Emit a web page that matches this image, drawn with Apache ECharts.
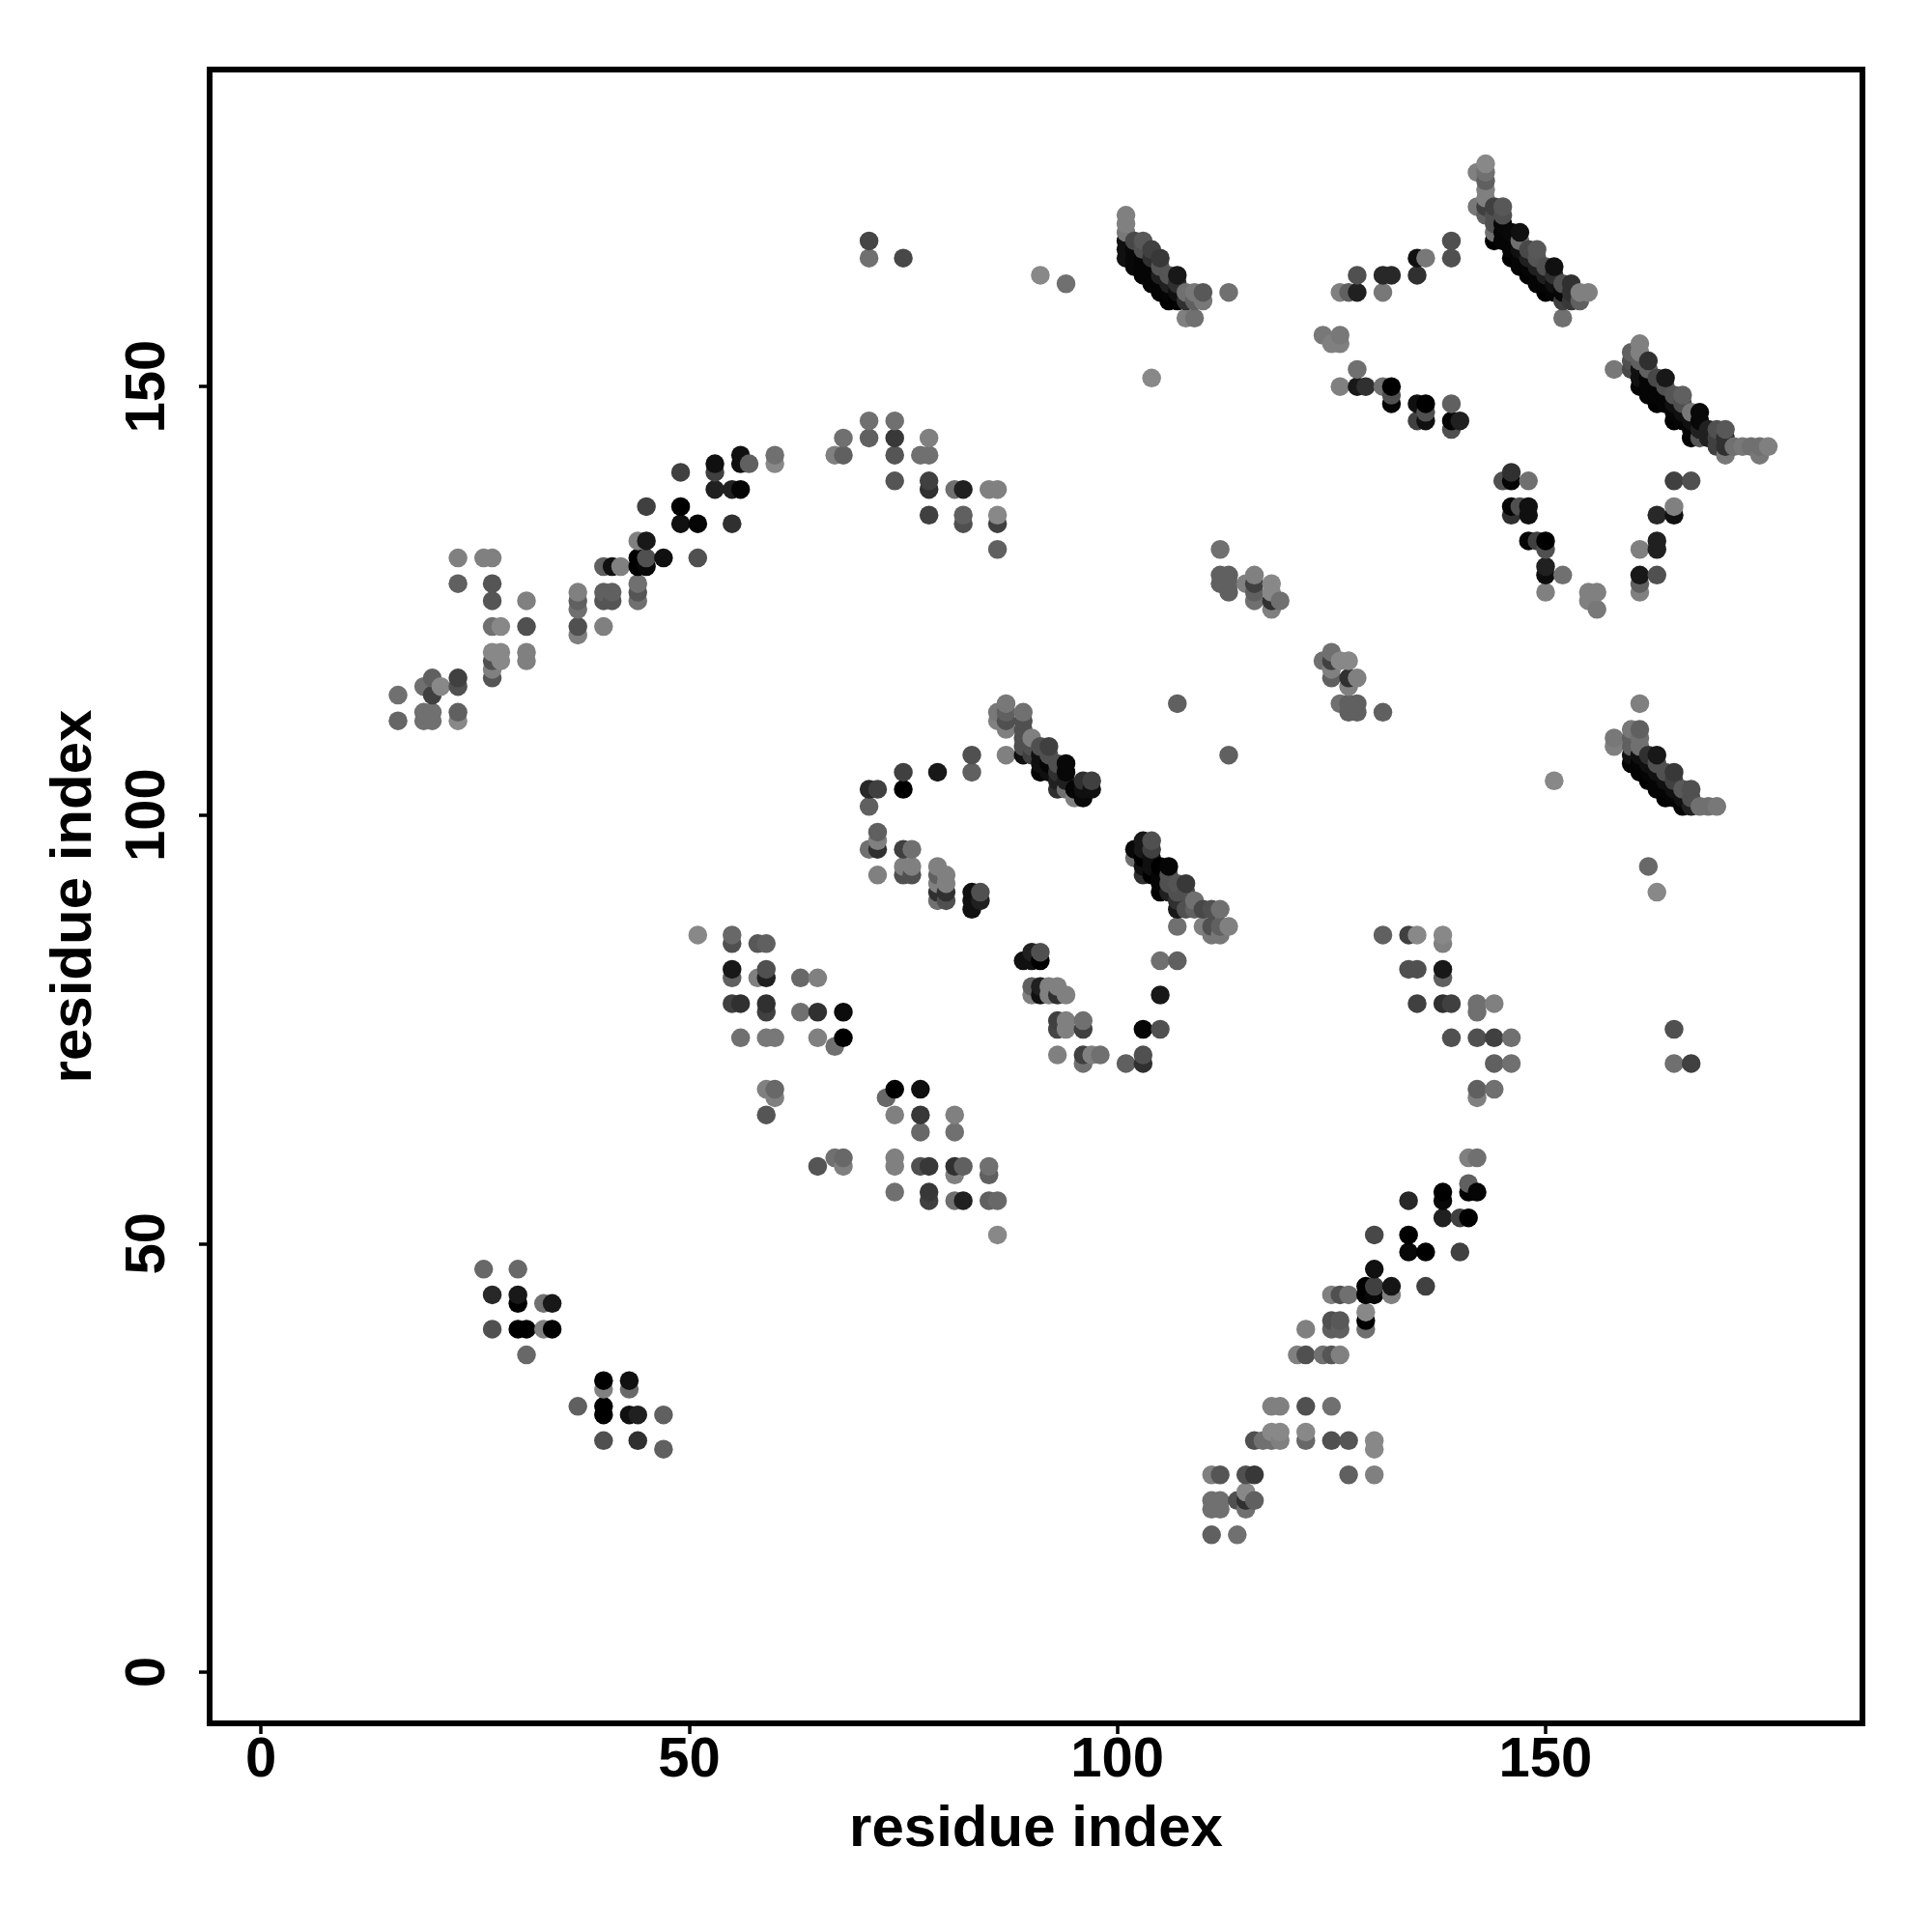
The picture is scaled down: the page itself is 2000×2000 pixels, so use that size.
<!DOCTYPE html>
<html>
<head>
<meta charset="utf-8">
<style>html,body{margin:0;padding:0;background:#fff}#c{width:2000px;height:2000px}</style>
<script src="https://cdn.jsdelivr.net/npm/echarts@6/dist/echarts.min.js"></script>
</head>
<body>
<div id="c"></div>
<script>
// Each contact: [residue x, residue y, grey level]
const tickValues = [0, 50, 100, 150];
const axisTitle = 'residue index';

const helixLeft = [[16,114,0x70],[16,111,0x66],[19,115,0x70],[20,116,0x60],[20,114,0x40],[21,115,0x88],[19,111,0x70],[19,112,0x70],[20,112,0x70],[20,111,0x70],[23,116,0x40],[23,115,0x50],[23,112,0x60],[23,111,0x88],[23,130,0x80],[23,127,0x60],[26,130,0x80],[27,130,0x80],[27,127,0x55],[27,125,0x55],[27,122,0x70],[28,122,0x88],[27,119,0x88],[28,119,0x88],[28,118,0x88],[27,118,0x50],[27,117,0x80],[27,116,0x55],[31,125,0x80],[31,122,0x50],[31,119,0x80],[31,118,0x80],[37,126,0x80],[37,125,0x60],[37,124,0x70],[37,122,0x50],[37,121,0x80],[40,126,0x60],[41,126,0x60],[40,125,0x55],[41,125,0x55],[40,122,0x80],[40,129,0x60],[41,129,0x10],[42,129,0x80],[44,132,0x80],[45,132,0x18],[44,130,0x00],[45,130,0x50],[44,129,0x00],[45,129,0x08],[47,130,0x10],[44,127,0x70],[44,126,0x55],[44,125,0x70],[45,136,0x40],[51,130,0x50],[49,140,0x40],[49,136,0x00],[49,134,0x10],[51,134,0x05],[55,134,0x30],[53,141,0x10],[53,140,0x40],[53,138,0x20],[55,138,0x20],[56,138,0x05],[56,142,0x10],[56,141,0x10],[57,141,0x60],[60,142,0x70],[60,141,0x88]];

const arcTopLeft = [[67,142,0x80],[68,142,0x60],[68,144,0x70],[71,146,0x70],[71,144,0x60],[74,146,0x70],[74,144,0x38],[74,142,0x55],[74,139,0x55],[77,142,0x70],[78,144,0x80],[78,142,0x70],[78,139,0x40],[78,138,0x30],[78,135,0x40],[81,138,0x70],[82,138,0x20],[82,135,0x60],[82,134,0x50],[85,138,0x80],[86,138,0x80],[86,135,0x88],[86,134,0x40],[86,131,0x60],[71,167,0x45],[71,165,0x70],[75,165,0x48],[91,163,0x88],[94,162,0x70]];

const bandA = [[101,170,0x80],[101,169,0x80],[101,168,0x78],[102,167,0x48],[103,167,0x58],[103,166,0x50],[101,167,0x10],[101,166,0x10],[101,165,0x10],[102,166,0x08],[102,165,0x08],[102,164,0x08],[103,165,0x05],[103,164,0x05],[103,163,0x05],[104,166,0x40],[104,165,0x30],[104,164,0x05],[104,163,0x05],[104,162,0x05],[105,165,0x38],[105,164,0x55],[105,163,0x20],[105,162,0x05],[105,161,0x05],[106,163,0x55],[106,162,0x20],[106,161,0x05],[106,160,0x00],[107,163,0x18],[107,162,0x30],[107,161,0x10],[107,160,0x00],[108,161,0x70],[108,160,0x30],[109,161,0x78],[109,160,0x60],[110,161,0x58],[110,160,0x78],[108,158,0x80],[109,158,0x70],[113,161,0x70],[104,151,0x88]];

const ladderTop = [[126,161,0x80],[127,161,0x60],[128,161,0x20],[128,163,0x50],[131,163,0x28],[132,163,0x28],[131,161,0x78],[135,165,0x10],[136,165,0x78],[135,163,0x30],[139,167,0x50],[139,165,0x50],[124,156,0x78],[125,155,0x80],[126,156,0x78],[126,155,0x80],[128,152,0x70],[126,150,0x80],[128,150,0x18],[129,150,0x30],[131,150,0x70],[132,150,0x00],[132,149,0x50],[132,148,0x05],[135,148,0x10],[136,148,0x00],[135,146,0x40],[136,147,0x50],[136,146,0x10],[139,148,0x60],[139,146,0x05],[140,146,0x20],[139,145,0x50]];

const bandB = [[143,176,0x88],[142,175,0x80],[143,175,0x70],[143,174,0x60],[143,173,0x80],[143,172,0x80],[142,171,0x78],[143,171,0x40],[143,170,0x60],[144,171,0x40],[144,170,0x50],[145,171,0x58],[145,170,0x50],[144,169,0x50],[144,168,0x70],[144,167,0x00],[145,169,0x08],[145,168,0x05],[145,167,0x05],[146,168,0x08],[146,167,0x05],[146,166,0x05],[146,165,0x00],[147,168,0x10],[147,167,0x70],[147,166,0x10],[147,165,0x05],[147,164,0x05],[148,166,0x48],[148,165,0x20],[148,164,0x05],[148,163,0x00],[149,166,0x58],[149,165,0x55],[149,164,0x20],[149,163,0x05],[149,162,0x05],[150,164,0x50],[150,163,0x20],[150,162,0x05],[150,161,0x00],[151,164,0x10],[151,163,0x30],[151,162,0x10],[151,161,0x05],[152,162,0x50],[152,161,0x08],[152,160,0x40],[153,162,0x30],[153,161,0x30],[153,160,0x38],[154,161,0x80],[154,160,0x60],[155,161,0x80],[152,158,0x70]];

const bandC = [[158,152,0x78],[160,154,0x60],[160,153,0x50],[160,152,0x48],[161,155,0x80],[161,154,0x80],[161,153,0x60],[161,152,0x10],[161,151,0x10],[161,150,0x05],[162,153,0x30],[162,152,0x60],[162,151,0x05],[162,150,0x05],[162,149,0x05],[163,151,0x48],[163,150,0x05],[163,149,0x05],[163,148,0x00],[164,151,0x18],[164,150,0x50],[164,149,0x05],[164,148,0x05],[165,149,0x55],[165,148,0x10],[165,147,0x05],[165,146,0x00],[166,149,0x60],[166,148,0x50],[166,147,0x10],[166,146,0x05],[167,147,0x78],[167,146,0x10],[167,145,0x05],[167,144,0x00],[168,147,0x08],[168,146,0x08],[168,145,0x20],[168,144,0x55],[169,145,0x20],[169,144,0x20],[170,145,0x50],[170,144,0x40],[170,143,0x40],[171,145,0x58],[171,144,0x30],[171,143,0x30],[171,142,0x78],[172,143,0x70],[173,143,0x78],[174,143,0x70],[175,143,0x70],[175,142,0x78],[176,143,0x80]];

const loopRight = [[145,139,0x50],[146,140,0x30],[146,139,0x05],[148,139,0x70],[146,136,0x05],[146,135,0x30],[147,136,0x50],[148,136,0x10],[148,135,0x10],[148,132,0x05],[149,132,0x40],[150,132,0x00],[150,131,0x50],[150,129,0x20],[150,128,0x0c],[150,126,0x80],[152,128,0x70],[155,126,0x80],[156,126,0x80],[155,125,0x80],[156,124,0x78],[161,128,0x18],[161,127,0x60],[161,126,0x80],[163,128,0x50],[161,131,0x80],[163,132,0x20],[163,131,0x20],[163,135,0x28],[165,135,0x10],[165,136,0x80],[165,139,0x40],[167,139,0x50]];

const patchesMid = [[112,131,0x70],[112,128,0x60],[112,127,0x60],[113,128,0x60],[113,127,0x60],[113,126,0x60],[115,127,0x80],[116,128,0x80],[116,127,0x40],[116,126,0x60],[116,125,0x70],[118,127,0x88],[118,126,0x88],[118,125,0x30],[118,124,0x80],[119,125,0x70],[107,113,0x60],[113,107,0x60],[124,118,0x70],[125,119,0x70],[125,118,0x40],[126,118,0x88],[127,118,0x88],[125,116,0x60],[125,117,0x80],[127,116,0x30],[128,116,0x80],[127,115,0x80],[126,113,0x70],[127,113,0x60],[128,113,0x60],[127,112,0x60],[128,112,0x60],[131,112,0x60],[161,113,0x80],[151,104,0x88],[162,94,0x68],[163,91,0x88]];

const bandF = [[158,109,0x78],[158,108,0x80],[160,110,0x78],[160,109,0x60],[160,108,0x60],[160,107,0x10],[160,106,0x05],[161,110,0x60],[161,109,0x70],[161,108,0x70],[161,107,0x10],[161,106,0x05],[161,105,0x05],[162,107,0x30],[162,106,0x10],[162,105,0x05],[162,104,0x00],[163,107,0x18],[163,106,0x50],[163,105,0x10],[163,104,0x05],[163,103,0x05],[164,105,0x50],[164,104,0x10],[164,103,0x05],[164,102,0x00],[165,105,0x38],[165,104,0x40],[165,103,0x10],[165,102,0x05],[166,103,0x58],[166,102,0x10],[166,101,0x05],[167,103,0x50],[167,102,0x50],[167,101,0x20],[168,101,0x70],[169,101,0x70],[170,101,0x78]];

const bottomRight = [[165,75,0x50],[165,71,0x70],[167,71,0x40],[131,86,0x60],[134,86,0x40],[135,86,0x88],[138,86,0x88],[138,85,0x80],[134,82,0x50],[135,82,0x50],[138,82,0x18],[138,81,0x60],[135,78,0x40],[138,78,0x30],[139,78,0x40],[142,78,0x70],[144,78,0x80],[142,77,0x70],[139,74,0x50],[142,74,0x50],[144,74,0x40],[146,74,0x70],[144,71,0x60],[146,71,0x70],[142,68,0x60],[144,68,0x70],[142,67,0x80],[141,60,0x80],[142,60,0x70],[141,57,0x60],[138,56,0x00],[138,55,0x08],[141,56,0x00],[142,56,0x05],[134,55,0x28],[138,53,0x20],[140,53,0x40],[141,53,0x00],[134,51,0x00],[130,51,0x48],[134,49,0x08],[136,49,0x00],[140,49,0x40],[130,47,0x10],[129,45,0x00],[130,45,0x40],[132,45,0x15],[136,45,0x40],[129,44,0x00],[130,44,0x08],[132,44,0x80],[125,44,0x80],[126,44,0x50],[127,44,0x70],[129,42,0x88],[129,41,0x00],[129,40,0x70],[125,41,0x50],[126,41,0x58],[125,40,0x60],[126,40,0x60],[122,40,0x80],[121,37,0x80],[122,37,0x50],[124,37,0x70],[125,37,0x55],[126,37,0x80],[118,31,0x80],[119,31,0x80],[122,31,0x50],[125,31,0x70],[118,28,0x88],[119,28,0x88],[122,28,0x88],[116,27,0x50],[117,27,0x70],[118,27,0x70],[119,27,0x80],[122,27,0x68],[125,27,0x50],[127,27,0x55],[130,27,0x88],[130,26,0x88],[111,23,0x80],[112,23,0x55],[115,23,0x50],[116,23,0x38],[127,23,0x60],[130,23,0x80],[111,20,0x70],[112,20,0x70],[111,19,0x70],[112,19,0x70],[114,20,0x50],[115,21,0x88],[115,20,0x30],[116,20,0x60],[115,19,0x70],[111,16,0x60],[114,16,0x70]];

const arcCentre = [[105,83,0x70],[107,83,0x60],[105,79,0x18],[103,75,0x05],[105,75,0x50],[103,72,0x50],[103,71,0x30],[101,71,0x60],[89,83,0x10],[90,84,0x20],[91,84,0x50],[90,83,0x10],[91,83,0x00],[90,80,0x60],[90,79,0x80],[91,80,0x20],[91,79,0x10],[92,80,0x80],[93,80,0x80],[92,79,0x80],[93,79,0x30],[94,79,0x80],[93,76,0x40],[93,75,0x45],[94,76,0x80],[94,75,0x80],[96,76,0x70],[96,75,0x40],[93,72,0x80],[96,72,0x40],[97,72,0x80],[98,72,0x70],[96,71,0x70]];

const bandE = [[103,97,0x18],[104,97,0x50],[102,96,0x08],[103,96,0x18],[104,96,0x40],[102,95,0x70],[103,95,0x00],[104,95,0x10],[103,94,0x10],[103,93,0x30],[104,94,0x10],[105,94,0x00],[106,94,0x05],[104,93,0x00],[105,93,0x05],[106,93,0x50],[105,92,0x05],[105,91,0x00],[106,92,0x50],[107,92,0x55],[108,92,0x38],[106,91,0x20],[107,91,0x50],[108,91,0x50],[107,90,0x30],[109,90,0x70],[107,89,0x18],[108,89,0x50],[109,89,0x60],[110,89,0x48],[111,89,0x50],[112,89,0x70],[107,87,0x70],[110,87,0x80],[111,87,0x50],[112,87,0x60],[113,87,0x80],[111,86,0x78],[112,86,0x78]];

const bandD = [[87,113,0x78],[86,112,0x78],[87,112,0x60],[87,111,0x50],[86,111,0x80],[87,110,0x80],[89,112,0x70],[89,111,0x50],[89,110,0x50],[89,109,0x50],[89,108,0x50],[89,107,0x10],[87,107,0x80],[90,109,0x80],[90,108,0x50],[90,107,0x40],[91,108,0x50],[92,108,0x40],[92,107,0x50],[91,107,0x10],[91,106,0x10],[91,105,0x05],[92,106,0x05],[92,105,0x10],[93,105,0x30],[93,106,0x50],[94,106,0x08],[94,105,0x08],[94,104,0x20],[93,104,0x20],[93,103,0x30],[94,103,0x70],[95,102,0x80],[95,103,0x05],[96,102,0x08],[96,103,0x10],[96,104,0x30],[97,104,0x40],[97,103,0x10]];

const ladderMid = [[71,103,0x28],[72,103,0x40],[71,101,0x60],[75,105,0x40],[75,103,0x00],[79,105,0x18],[83,107,0x50],[83,105,0x60],[72,98,0x60],[72,97,0x80],[71,96,0x70],[72,96,0x30],[72,93,0x80],[75,96,0x40],[76,96,0x70],[75,94,0x80],[76,94,0x80],[75,93,0x50],[76,93,0x50],[79,94,0x80],[80,93,0x80],[79,93,0x60],[79,92,0x80],[80,92,0x80],[79,91,0x30],[80,91,0x30],[79,90,0x70],[80,90,0x50],[83,91,0x10],[84,91,0x50],[83,90,0x10],[84,90,0x20],[83,89,0x10]];

const sheetLeft = [[51,86,0x88],[55,86,0x68],[55,85,0x50],[58,85,0x58],[59,85,0x60],[55,82,0x18],[55,81,0x60],[58,81,0x80],[59,82,0x50],[59,81,0x20],[63,81,0x68],[65,81,0x80],[55,78,0x40],[56,78,0x30],[59,78,0x30],[59,77,0x40],[63,77,0x70],[65,77,0x30],[68,77,0x0c],[56,74,0x70],[59,74,0x78],[60,74,0x78],[65,74,0x80],[68,74,0x00],[67,73,0x70],[59,68,0x80],[60,68,0x68],[60,67,0x80],[59,65,0x55],[74,68,0x00],[77,68,0x10],[73,67,0x68],[74,65,0x80],[77,65,0x38],[81,65,0x80],[77,63,0x68],[81,63,0x70],[65,59,0x55],[67,60,0x70],[68,60,0x68],[68,59,0x80],[74,60,0x80],[74,59,0x80],[77,59,0x50],[78,59,0x38],[81,59,0x30],[82,59,0x60],[81,58,0x80],[85,59,0x70],[85,58,0x60],[74,56,0x70],[78,56,0x38],[78,55,0x40],[81,55,0x70],[82,55,0x20],[85,55,0x60],[86,55,0x68],[86,51,0x88]];

const cornerLow = [[26,47,0x68],[30,47,0x68],[27,44,0x28],[30,44,0x18],[30,43,0x00],[33,43,0x70],[34,43,0x18],[27,40,0x50],[30,40,0x00],[31,40,0x00],[33,40,0x80],[34,40,0x00],[31,37,0x68],[40,34,0x00],[43,34,0x10],[40,33,0x80],[43,33,0x68],[37,31,0x60],[40,31,0x00],[40,30,0x00],[43,30,0x10],[44,30,0x20],[47,30,0x60],[40,27,0x50],[44,27,0x30],[47,26,0x60]];

const contacts = [].concat(helixLeft, arcTopLeft, bandA, ladderTop, bandB, bandC, loopRight, patchesMid, bandF, bottomRight, arcCentre, bandE, bandD, ladderMid, sheetLeft, cornerLow)
  .sort((a, b) => a[0] - b[0] || a[1] - b[1]);

const font = { fontFamily: 'Liberation Sans', fontWeight: 'bold', fontSize: 58, color: '#000' };
const titleFont = { ...font, fontSize: 60 };
const tick = { show: true, customValues: tickValues, length: 11, lineStyle: { color: '#000', width: 3.5 } };

const chart = echarts.init(document.getElementById('c'), null, { renderer: 'canvas' });
chart.setOption({
  animation: false,
  backgroundColor: '#fff',
  grid: { left: 217, top: 72, width: 1711, height: 1712, show: true, borderColor: '#000', borderWidth: 6, backgroundColor: 'transparent', z: 5 },
  xAxis: {
    type: 'value', min: -6, max: 187, position: 'bottom',
    name: axisTitle, nameLocation: 'middle', nameGap: 80, nameTextStyle: titleFont,
    axisLine: { show: false, onZero: false }, splitLine: { show: false },
    axisTick: tick,
    axisLabel: { ...font, customValues: tickValues, margin: 10, hideOverlap: false }
  },
  yAxis: {
    type: 'value', min: -6, max: 187, position: 'left',
    name: axisTitle, nameLocation: 'middle', nameGap: 110, nameRotate: 90, nameTextStyle: titleFont,
    axisLine: { show: false, onZero: false }, splitLine: { show: false },
    axisTick: tick,
    axisLabel: { ...font, customValues: tickValues, rotate: 90, margin: 34, hideOverlap: false }
  },
  series: [{
    type: 'scatter',
    data: contacts,
    symbol: 'circle',
    symbolSize: 19.5,
    large: false,
    progressive: 0,
    itemStyle: { opacity: 1, color: p => { const g = p.value[2]; return `rgb(${g},${g},${g})`; } },
    emphasis: { disabled: true },
    z: 2
  }]
});
</script>
</body>
</html>
